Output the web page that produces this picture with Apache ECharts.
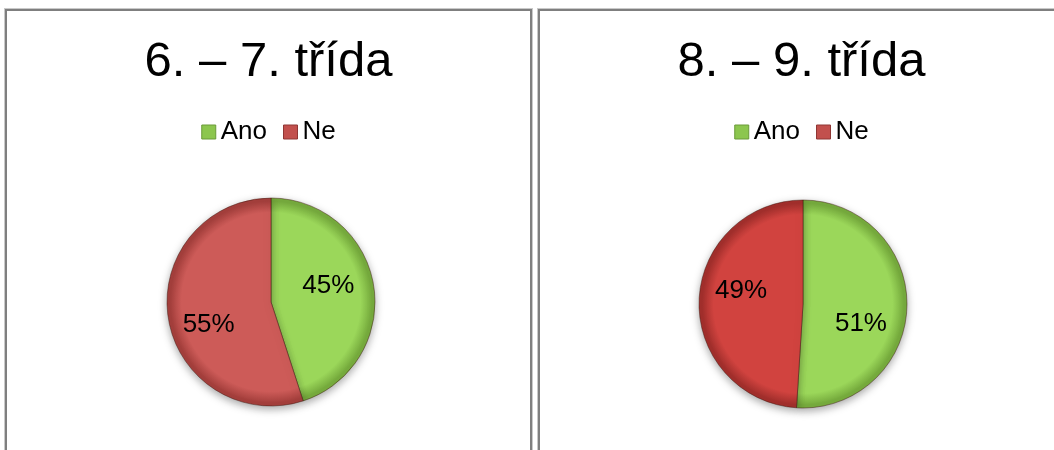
<!DOCTYPE html>
<html>
<head>
<meta charset="utf-8">
<script src="https://cdn.jsdelivr.net/npm/echarts@6/dist/echarts.min.js"></script>
<style>
  html, body { margin: 0; padding: 0; background: #fff; overflow: hidden; width: 1054px; height: 450px; }
  .panel {
    position: absolute;
    top: 9px;
    width: 523px;
    height: 500px;
    border: 2px solid #7f7f7f;
    box-shadow: 0 0 0 1px #c9c9c9;
    background: #fff;
  }
  .chart { width: 523px; height: 450px; }
</style>
</head>
<body>
<div class="panel" style="left:5px"><div id="chart-left" class="chart"></div></div>
<div class="panel" style="left:538px"><div id="chart-right" class="chart"></div></div>
<script>
// data
const categories = ["Ano", "Ne"];
const titles = ["6. – 7. třída", "8. – 9. třída"];
const valuesGrade67 = [45, 55];
const valuesGrade89 = [51, 49];

const FONT = "'Liberation Sans', Arial, sans-serif";

function sliceFill(cx, cy, r, base, edge) {
  return {
    type: "radial",
    x: cx, y: cy, r: r,
    global: true,
    colorStops: [
      { offset: 0, color: base },
      { offset: 0.86, color: base },
      { offset: 0.97, color: edge },
      { offset: 1, color: edge },
    ],
  };
}

// labelShift: small nudges so labels sit where Excel put them
function makeChart(domId, title, values, center, colors, labelShift) {
  const myChart = echarts.init(document.getElementById(domId), null, { renderer: "canvas" });
  const r = 104;
  const option = {
    animation: false,
    title: {
      text: title,
      left: "center",
      top: 22,
      textStyle: { fontFamily: FONT, fontSize: 49, fontWeight: "normal", color: "#000" },
    },
    legend: {
      top: 103,
      left: "center",
      icon: "rect",
      itemWidth: 14,
      itemHeight: 14,
      itemGap: 16,
      textStyle: { fontFamily: FONT, fontSize: 26, color: "#000" },
      data: [
        { name: categories[0], itemStyle: { color: "#8cc64e", borderColor: "#6a9a38", borderWidth: 1 } },
        { name: categories[1], itemStyle: { color: "#c2504d", borderColor: "#8f3634", borderWidth: 1 } },
      ],
    },
    series: [
      {
        type: "pie",
        center: center,
        radius: r,
        startAngle: 90,
        clockwise: true,
        label: {
          show: true,
          position: "inside",
          formatter: "{d}%",
          fontFamily: FONT,
          fontSize: 26,
          color: "#000",
        },
        labelLine: { show: false },
        itemStyle: {
          borderColor: "rgba(60,20,10,0.45)",
          borderWidth: 1,
          shadowBlur: 8,
          shadowOffsetY: 3,
          shadowColor: "rgba(0,0,0,0.35)",
        },
        emphasis: { disabled: true },
        data: categories.map((name, i) => ({
          name: name,
          value: values[i],
          itemStyle: { color: sliceFill(center[0], center[1], r, colors[i][0], colors[i][1]) },
          label: { offset: labelShift[i] },
        })),
      },
    ],
  };
  myChart.setOption(option);
  window.addEventListener("resize", myChart.resize);
  return myChart;
}

makeChart("chart-left", titles[0], valuesGrade67, [264, 291],
  [["#9bd75a", "#76ab3d"], ["#cd5b58", "#a43f3c"]], [[3, -8], [-8, 14]]);
makeChart("chart-right", titles[1], valuesGrade89, [263, 293],
  [["#9bd75a", "#76ab3d"], ["#d1433f", "#a22f2c"]], [[3, 18], [-7, -11]]);
</script>
</body>
</html>
